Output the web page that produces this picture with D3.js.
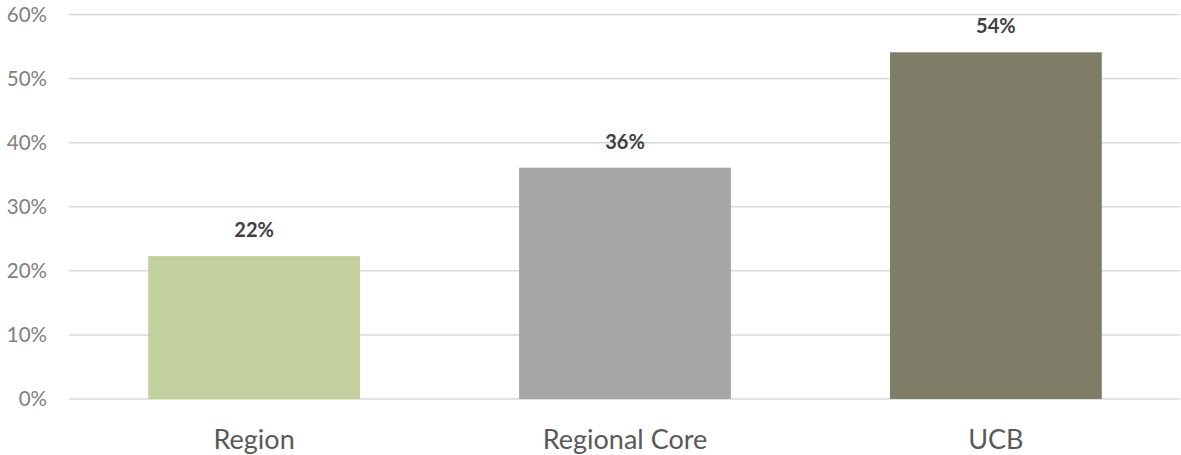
<!DOCTYPE html>
<html>
<head>
<meta charset="utf-8">
<script src="https://cdn.jsdelivr.net/npm/d3@7"></script>
<style>
  html, body { margin: 0; padding: 0; background: #fff; }
  svg { display: block; }
</style>
</head>
<body>
<svg id="chart" width="1181" height="455"></svg>
<script>
// Share of each area, by category
const categories = ["Region", "Regional Core", "UCB"];
const shares = [0.223, 0.361, 0.541];
const barColors = ["#c3cf9c", "#a5a5a5", "#7f7c67"];
const yTicks = [0, 0.1, 0.2, 0.3, 0.4, 0.5, 0.6];

const svg = d3.select("#chart");
const margin = { left: 69, right: 0, top: 14.5, bottom: 56 };
const W = 1181, H = 455;

const x = d3.scaleBand()
  .domain(categories)
  .range([margin.left, W - margin.right])
  .paddingInner(0.429)
  .paddingOuter(0.2136);

const y = d3.scaleLinear()
  .domain([0, 0.6])
  .range([H - margin.bottom, margin.top]);

const pct = d3.format(".0%");

// Horizontal gridlines
svg.append("g")
  .selectAll("line")
  .data(yTicks)
  .join("line")
  .attr("x1", margin.left)
  .attr("x2", W - 1)
  .attr("y1", d => y(d))
  .attr("y2", d => y(d))
  .attr("stroke", "#d9d9d9")
  .attr("stroke-width", 1.5);

// Y axis labels
const yAxis = d3.axisLeft(y).tickValues(yTicks).tickFormat(pct).tickSize(0).tickPadding(0);
const gy = svg.append("g")
  .attr("transform", `translate(47,0)`)
  .call(yAxis);
gy.select(".domain").remove();
gy.selectAll("text")
  .attr("fill", "#808080")
  .style("font-family", "Lato, 'Open Sans', sans-serif")
  .style("font-size", "20.5px");

// Bars
svg.append("g")
  .selectAll("rect")
  .data(categories)
  .join("rect")
  .attr("x", d => x(d))
  .attr("width", x.bandwidth())
  .attr("y", (d, i) => y(shares[i]))
  .attr("height", (d, i) => y(0) - y(shares[i]))
  .attr("fill", (d, i) => barColors[i]);

// Value labels above bars
svg.append("g")
  .selectAll("text")
  .data(categories)
  .join("text")
  .attr("x", d => x(d) + x.bandwidth() / 2)
  .attr("y", (d, i) => y(shares[i]) - 19)
  .attr("text-anchor", "middle")
  .attr("fill", "#404040")
  .style("font-family", "Lato, 'Open Sans', sans-serif")
  .style("font-weight", "bold")
  .style("font-size", "20px")
  .text((d, i) => pct(shares[i]));

// Category labels
const xAxis = d3.axisBottom(x).tickSize(0).tickPadding(0);
const gx = svg.append("g")
  .attr("transform", `translate(0,${y(0)})`)
  .call(xAxis);
gx.select(".domain").remove();
gx.selectAll("text")
  .attr("dy", null)
  .attr("y", 49.5)
  .attr("fill", "#595959")
  .style("font-family", "Lato, 'Open Sans', sans-serif")
  .style("font-size", "27px");
</script>
</body>
</html>
